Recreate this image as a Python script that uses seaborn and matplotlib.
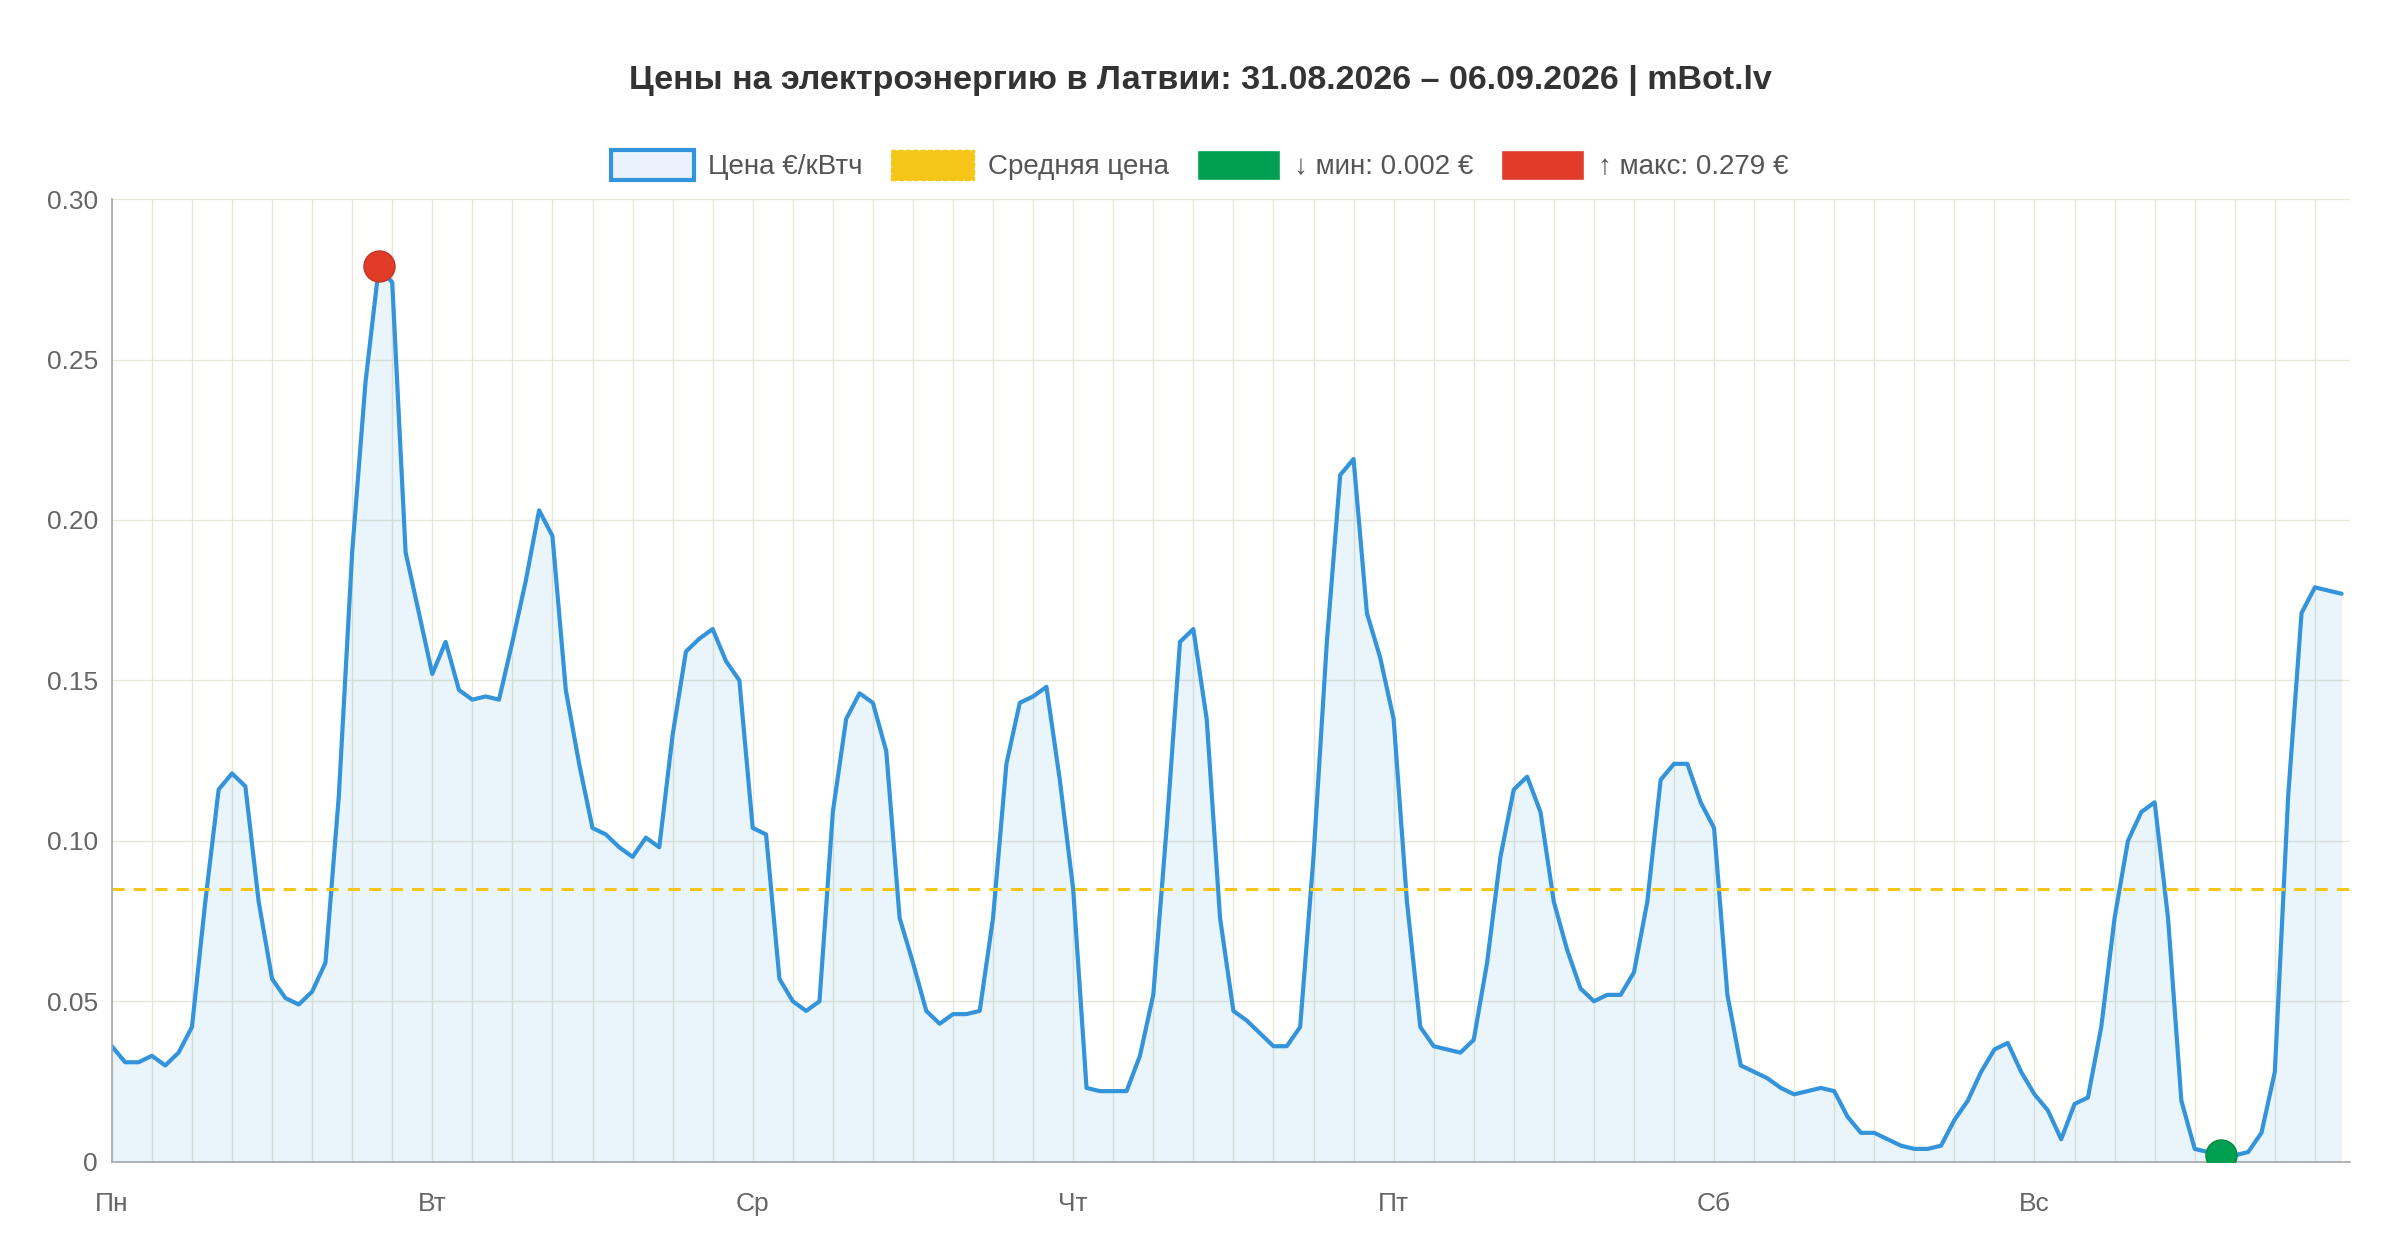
import matplotlib
matplotlib.use("Agg")
import matplotlib.pyplot as plt
import seaborn as sns
import numpy as np
import pandas as pd
from matplotlib.patches import Patch

sns.set_theme(style="white")
plt.rcParams['font.family'] = ['Liberation Sans', 'DejaVu Sans']

prices = [0.036,0.031,0.031,0.033,0.030,0.034,0.042,0.081,0.116,0.121,0.117,0.081,0.057,0.051,0.049,0.053,0.062,0.114,0.190,0.243,0.279,0.274,0.190,0.171,
0.152,0.162,0.147,0.144,0.145,0.144,0.162,0.181,0.203,0.195,0.147,0.124,0.104,0.102,0.098,0.095,0.101,0.098,0.133,0.159,0.163,0.166,0.156,0.150,
0.104,0.102,0.057,0.050,0.047,0.050,0.109,0.138,0.146,0.143,0.128,0.076,0.062,0.047,0.043,0.046,0.046,0.047,0.076,0.124,0.143,0.145,0.148,0.119,
0.085,0.023,0.022,0.022,0.022,0.033,0.052,0.104,0.162,0.166,0.138,0.076,0.047,0.044,0.040,0.036,0.036,0.042,0.095,0.162,0.214,0.219,0.171,0.157,
0.138,0.081,0.042,0.036,0.035,0.034,0.038,0.062,0.095,0.116,0.120,0.109,0.081,0.066,0.054,0.050,0.052,0.052,0.059,0.081,0.119,0.124,0.124,0.112,
0.104,0.052,0.030,0.028,0.026,0.023,0.021,0.022,0.023,0.022,0.014,0.009,0.009,0.007,0.005,0.004,0.004,0.005,0.013,0.019,0.028,0.035,0.037,0.028,
0.021,0.016,0.007,0.018,0.020,0.042,0.076,0.100,0.109,0.112,0.076,0.019,0.004,0.003,0.002,0.002,0.003,0.009,0.028,0.114,0.171,0.179,0.178,0.177]
day_labels = ["Пн", "Вт", "Ср", "Чт", "Пт", "Сб", "Вс"]
y_ticks = [0, 0.05, 0.10, 0.15, 0.20, 0.25, 0.30]
y_tick_labels = ["0", "0.05", "0.10", "0.15", "0.20", "0.25", "0.30"]
avg_price = 0.085
title = "Цены на электроэнергию в Латвии: 31.08.2026 – 06.09.2026 | mBot.lv"

df = pd.DataFrame({"hour": np.arange(len(prices)), "price": prices})
imax = int(np.argmax(prices)); imin = int(np.argmin(prices))

fig = plt.figure(figsize=(24, 12.6), dpi=100)
ax = fig.add_axes([0.0466, 0.078, 0.9324, 0.764])
blue = "#3394db"
ax.fill_between(df.hour, df.price, color=blue, alpha=0.1, lw=0)
sns.lineplot(data=df, x="hour", y="price", ax=ax, color=blue, lw=3,
             solid_joinstyle="round", solid_capstyle="round")
ax.axhline(avg_price, color="#f5c518", ls=(0, (4, 3)), lw=2.2)
ax.scatter([imax], [prices[imax]], s=500, color="#e03c28", edgecolor="#c0392b", zorder=5)
ax.scatter([imin], [prices[imin]], s=500, color="#00a050", edgecolor="#008a40", zorder=5)

ax.set_xlim(0, 167.6)
ax.set_ylim(0, 0.30)
ax.set_xticks(np.arange(0, 168, 3), minor=True)
ax.set_xticks(np.arange(0, 168, 24))
ax.set_xticklabels(day_labels)
ax.set_yticks(y_ticks)
ax.set_yticklabels(y_tick_labels)
ax.grid(True, which="both", axis="x", color="#e8e6d8", lw=1)
ax.grid(True, axis="y", color="#e8e6d8", lw=1)
ax.tick_params(axis="x", which="both", length=18, color="#e8e6d8", labelsize=19, labelcolor="#666666", pad=4)
ax.tick_params(axis="y", length=0, labelsize=19, labelcolor="#666666", pad=10)
for s in ["top", "right"]:
    ax.spines[s].set_visible(False)
for s in ["left", "bottom"]:
    ax.spines[s].set_color("#aaaaaa")
ax.set_xlabel(""); ax.set_ylabel("")

fig.text(0.5, 0.936, title, ha="center", va="center", fontsize=24.5, fontweight="bold", color="#333333")
handles = [Patch(facecolor="#eaf3fb", edgecolor=blue, lw=3, label="Цена €/кВтч"),
           Patch(facecolor="#f5c518", edgecolor="#f5c518", ls="--", label="Средняя цена"),
           Patch(facecolor="#00a050", label="↓ мин: 0.002 €"),
           Patch(facecolor="#e03c28", label="↑ макс: 0.279 €")]
fig.legend(handles=handles, loc="center", bbox_to_anchor=(0.5, 0.869), ncol=4, frameon=False,
           fontsize=20, handlelength=3.0, handleheight=1.3, columnspacing=1.0, handletextpad=0.5, labelcolor="#555555")
fig.savefig("out.png", dpi=100, facecolor="white")
